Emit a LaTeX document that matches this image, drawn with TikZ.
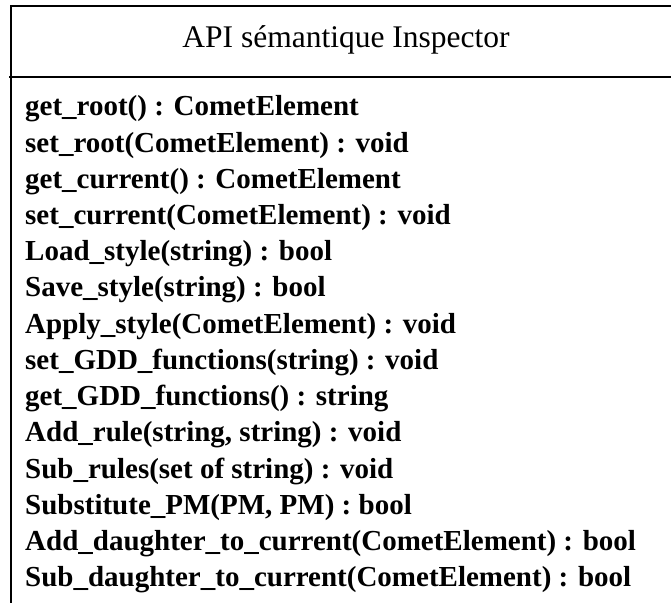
\documentclass[tikz,border=0pt]{standalone}
\usepackage{fontspec}
\setmainfont{Liberation Serif}
\usepackage{tikz}
\usetikzlibrary{positioning}
\definecolor{mydark}{RGB}{0,0,0}
\tikzset{
  classtitle/.style={font=\fontsize{31.5}{32}\selectfont, inner sep=0pt, anchor=base},
  member/.style={font=\fontsize{29}{30}\selectfont\bfseries, inner sep=0pt, anchor=base west},
  frame/.style={line width=2pt, color=mydark}
}

\begin{document}
\begin{tikzpicture}[x=1pt, y=1pt]
  \useasboundingbox (0,0) rectangle (671,603);
  % class box, cut off at right and bottom
  \coordinate (topleft) at (11,597);
  \coordinate (topright) at (671,597);
  \coordinate (botleft) at (11,0);
  \coordinate (divleft) at (9,526);
  \coordinate (divright) at (671,526);
  \draw[frame] (topright) -- (topleft) -- (botleft);
  \draw[frame] (divleft) -- (divright);
  \node[classtitle] (title) at (346,555) {API sémantique Inspector};
  % operations
  \foreach \op [count=\i] in {
      get\_root() : CometElement,
      set\_root(CometElement) : void,
      get\_current() : CometElement,
      set\_current(CometElement) : void,
      Load\_style(string) : bool,
      Save\_style(string) : bool,
      Apply\_style(CometElement) : void,
      set\_GDD\_functions(string) : void,
      get\_GDD\_functions() : string,
      {Add\_rule(string, string) : void},
      Sub\_rules(set of string) : void,
      {Substitute\_PM(PM, PM) : bool},
      Add\_daughter\_to\_current(CometElement) : bool,
      Sub\_daughter\_to\_current(CometElement) : bool}
    \node[member] (op\i) at (25,{603-116-36.2*(\i-1)}) {\op};
\end{tikzpicture}
\end{document}
